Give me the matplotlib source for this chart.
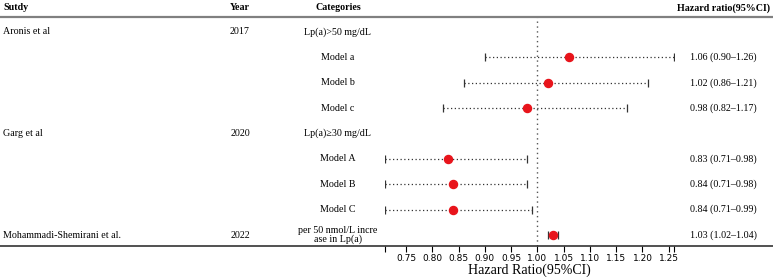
import matplotlib
matplotlib.use("Agg")
import matplotlib.pyplot as plt
from matplotlib.lines import Line2D
import matplotlib.transforms as mtransforms

# ---- data ----
studies = ["Aronis et al", "", "", "", "Garg et al", "", "", "", "Mohammadi-Shemirani et al."]
years = ["2017", "", "", "", "2020", "", "", "", "2022"]
categories = ["Lp(a)>50 mg/dL", "Model a", "Model b", "Model c",
              "Lp(a)\u226530 mg/dL", "Model A", "Model B", "Model C",
              "per 50 nmol/L incre\nase in Lp(a)"]
hr = [None, 1.06, 1.02, 0.98, None, 0.83, 0.84, 0.84, 1.03]
lo = [None, 0.90, 0.86, 0.82, None, 0.71, 0.71, 0.71, 1.02]
hi = [None, 1.26, 1.21, 1.17, None, 0.98, 0.98, 0.99, 1.04]
hr_text = ["", "1.06 (0.90\u20131.26)", "1.02 (0.86\u20131.21)", "0.98 (0.82\u20131.17)", "",
           "0.83 (0.71\u20130.98)", "0.84 (0.71\u20130.98)", "0.84 (0.71\u20130.99)",
           "1.03 (1.02\u20131.04)"]
xticks = [0.71, 0.75, 0.80, 0.85, 0.90, 0.95, 1.00, 1.05, 1.10, 1.15, 1.20, 1.25, 1.26]
xticklabels = ["", "0.75", "0.80", "0.85", "0.90", "0.95", "1.00", "1.05", "1.10",
               "1.15", "1.20", "1.25", ""]

W, H = 773, 277
serif = ["Liberation Serif", "DejaVu Serif"]
fig = plt.figure(figsize=(W / 100, H / 100), dpi=100)

def fx(px):
    return px / W

def fy(py):
    return 1 - py / H

# forest panel: x 0.71..1.26 spans px 385..674, rows between header line and bottom line
ax = fig.add_axes([fx(385), fy(246), fx(674) - fx(385), fy(17) - fy(246)])
n = len(studies)
ys = [-i for i in range(n)]
ax.set_xlim(0.71, 1.26)
ax.set_ylim(-(n - 1) - 0.43, 0.59)
for s in ax.spines.values():
    s.set_visible(False)
ax.set_yticks([])
ax.set_xticks(xticks)
ax.set_xticklabels(xticklabels, fontsize=6.5, family="DejaVu Sans")
ax.tick_params(axis="x", direction="out", length=4, width=0.8, pad=2)
ax.set_xlabel("Hazard Ratio(95%CI)", family=serif, fontsize=10, labelpad=0)
ax.axvline(1.0, color="#555555", ls=(0, (1, 2.5)), lw=1.0, zorder=1)

for y, m, l, h in zip(ys, hr, lo, hi):
    if m is None:
        continue
    ax.hlines(y, l, h, color="#333333", ls=(0, (1, 2)), lw=0.9, zorder=2)
    ax.plot([l, h], [y, y], ls="none", marker="|", ms=6, mew=0.9, color="#333333", zorder=2)
    ax.plot(m, y, "o", color="#e8141b", ms=5.8, zorder=3)

# table text columns: figure x, data y
tr = mtransforms.blended_transform_factory(fig.transFigure, ax.transData)
fs = 7.2
for y, st, yr, cat, t in zip(ys, studies, years, categories, hr_text):
    fig.text(fx(3), y, st, transform=tr, family=serif, fontsize=fs, va="center")
    fig.text(fx(240), y, yr, transform=tr, family=serif, fontsize=fs, va="center", ha="center")
    fig.text(fx(338), y, cat, transform=tr, family=serif, fontsize=fs, va="center",
             ha="center", linespacing=0.95)
    fig.text(fx(690), y, t, transform=tr, family=serif, fontsize=fs, va="center")

# header
hy = fy(8)
fig.text(fx(3), hy, "Sutdy", family=serif, fontsize=fs, weight="bold", va="center")
fig.text(fx(240), hy, "Year", family=serif, fontsize=fs, weight="bold", va="center", ha="center")
fig.text(fx(338), hy, "Categories", family=serif, fontsize=fs, weight="bold", va="center", ha="center")
fig.text(fx(770), hy, "Hazard ratio(95%CI)", family=serif, fontsize=fs, weight="bold",
         va="center", ha="right")

# table rules
fig.add_artist(Line2D([0, 1], [fy(17), fy(17)], color="#808080", lw=1.6))
fig.add_artist(Line2D([0, 1], [fy(246), fy(246)], color="#333333", lw=1.2))

fig.savefig("out.png", dpi=100)
